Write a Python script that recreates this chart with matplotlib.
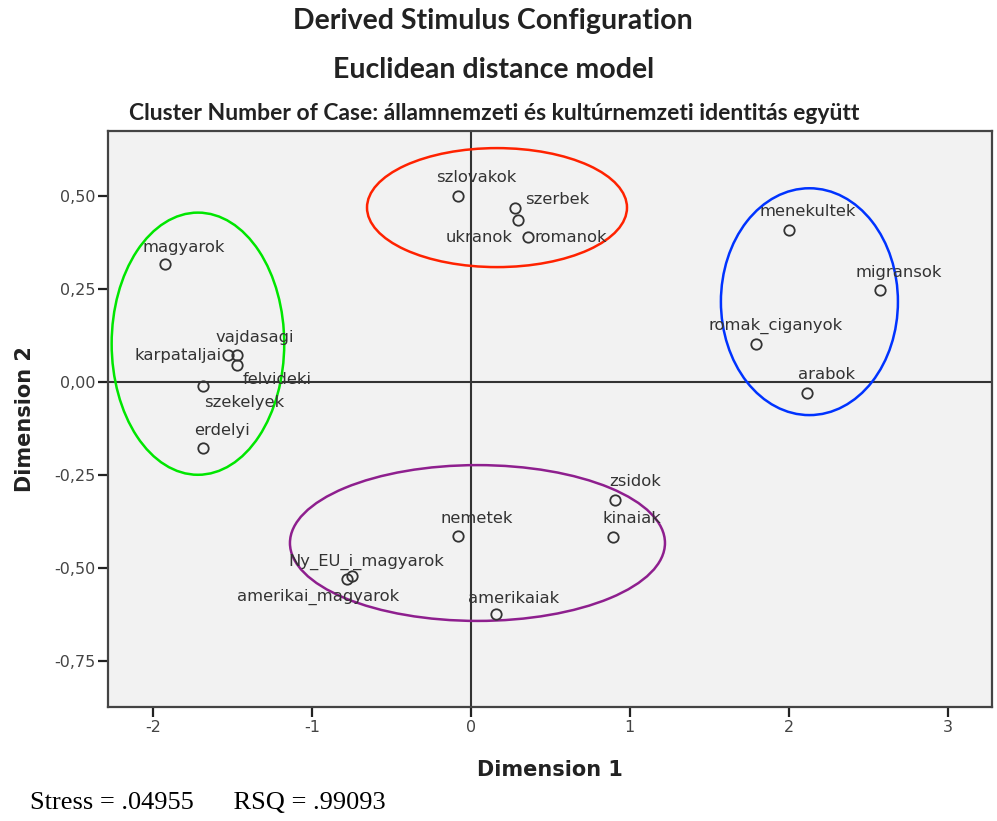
import matplotlib
matplotlib.use("Agg")
import matplotlib.pyplot as plt
from matplotlib.patches import Ellipse
from matplotlib.ticker import FuncFormatter, FixedLocator

# ---- data ----
names = ["magyarok", "vajdasagi", "karpataljai", "felvideki", "szekelyek", "erdelyi",
         "szlovakok", "szerbek", "ukranok", "romanok",
         "menekultek", "migransok", "romak_ciganyok", "arabok",
         "zsidok", "kinaiak", "nemetek", "Ny_EU_i_magyarok", "amerikai_magyarok", "amerikaiak"]
dim1 = [-1.926, -1.473, -1.529, -1.473, -1.686, -1.686,
        -0.084, 0.277, 0.298, 0.361,
        2.003, 2.574, 1.794, 2.113,
        0.906, 0.896, -0.084, -0.751, -0.778, 0.157]
dim2 = [0.317, 0.073, 0.073, 0.046, -0.010, -0.178,
        0.501, 0.467, 0.435, 0.389,
        0.410, 0.247, 0.103, -0.029,
        -0.317, -0.416, -0.414, -0.523, -0.531, -0.625]

# cluster ellipses (data units)
cluster_cx = [-1.718, 0.164, 2.130, 0.041]
cluster_cy = [0.103, 0.469, 0.216, -0.433]
cluster_w = [1.086, 1.636, 1.114, 2.360]
cluster_h = [0.705, 0.320, 0.610, 0.419]
cluster_colors = ["#00e600", "#ff2200", "#0033ff", "#8e1f8e"]

x_ticks = [-2, -1, 0, 1, 2, 3]
y_ticks = [-0.75, -0.50, -0.25, 0.0, 0.25, 0.50]

# label placement (pixel offsets, alignment) - style only
label_style = {
    "magyarok": (19, 17, "center"),
    "vajdasagi": (18, 17, "center"),
    "karpataljai": (-6, -1, "right"),
    "felvideki": (40, -15, "center"),
    "szekelyek": (41, -17, "center"),
    "erdelyi": (19, 18, "center"),
    "szlovakok": (19, 18, "center"),
    "szerbek": (10, 9, "left"),
    "ukranok": (-6, -17, "right"),
    "romanok": (6, 0, "left"),
    "menekultek": (19, 18, "center"),
    "migransok": (19, 18, "center"),
    "romak_ciganyok": (20, 18, "center"),
    "arabok": (20, 18, "center"),
    "zsidok": (20, 18, "center"),
    "kinaiak": (19, 18, "center"),
    "nemetek": (19, 17, "center"),
    "Ny_EU_i_magyarok": (15, 15, "center"),
    "amerikai_magyarok": (-29, -17, "center"),
    "amerikaiak": (18, 16, "center"),
}

W, H = 997, 821
fig = plt.figure(figsize=(W / 100, H / 100), dpi=100)
fig.patch.set_facecolor("white")
ax = fig.add_axes([108 / W, 1 - 707 / H, (992 - 108) / W, (707 - 131) / H])
ax.set_facecolor("#f2f2f2")
ax.set_xlim(-2.284, 3.279)
ax.set_ylim(-0.874, 0.675)

for s in ax.spines.values():
    s.set_color("#444444")
    s.set_linewidth(1.6)

ax.axhline(0, color="#333333", lw=1.5, zorder=1)
ax.axvline(0, color="#333333", lw=1.5, zorder=1)

for cx, cy, w, h, c in zip(cluster_cx, cluster_cy, cluster_w, cluster_h, cluster_colors):
    ax.add_patch(Ellipse((cx, cy), w, h, fill=False, edgecolor=c, lw=1.8, zorder=2))

ax.plot(dim1, dim2, linestyle="none", marker="o", markersize=7.5,
        markerfacecolor="none", markeredgecolor="#333333", markeredgewidth=1.3, zorder=3)

for n, x, y in zip(names, dim1, dim2):
    dx, dy, ha = label_style[n]
    ax.annotate(n, (x, y), xytext=(dx, dy), textcoords="offset pixels",
                ha=ha, va="center", fontsize=11.8, color="#333333",
                family="DejaVu Sans", zorder=4)

ax.xaxis.set_major_locator(FixedLocator(x_ticks))
ax.yaxis.set_major_locator(FixedLocator(y_ticks))
ax.xaxis.set_major_formatter(FuncFormatter(lambda v, p: f"{v:.0f}"))
ax.yaxis.set_major_formatter(FuncFormatter(lambda v, p: f"{v:.2f}".replace(".", ",")))
ax.tick_params(axis="both", direction="out", length=7, width=1.6, color="#222222",
               labelsize=11.5, labelcolor="#444444", pad=2)

ax.set_xlabel("Dimension 1", fontsize=15, fontweight="bold", color="#222222", labelpad=18)
ax.set_ylabel("Dimension 2", fontsize=15, fontweight="bold", color="#222222", labelpad=14)

title_fam = ["Liberation Sans Narrow", "Lato", "DejaVu Sans"]
fig.text(493 / W, 1 - 21 / H, "Derived Stimulus Configuration", ha="center", va="center",
         fontsize=20.5, fontweight="bold", color="#222222", family=title_fam)
fig.text(494 / W, 1 - 70 / H, "Euclidean distance model", ha="center", va="center",
         fontsize=20.5, fontweight="bold", color="#222222", family=title_fam)
fig.text(494 / W, 1 - 113 / H,
         "Cluster Number of Case: államnemzeti és kultúrnemzeti identitás együtt",
         ha="center", va="center", fontsize=16.5, fontweight="bold", color="#222222",
         family=title_fam)

fig.text(30 / W, 1 - 803 / H, "Stress = .04955      RSQ = .99093", ha="left", va="center",
         fontsize=19, family=["Liberation Serif", "DejaVu Serif"], color="black")

fig.savefig("out.png", dpi=100)
